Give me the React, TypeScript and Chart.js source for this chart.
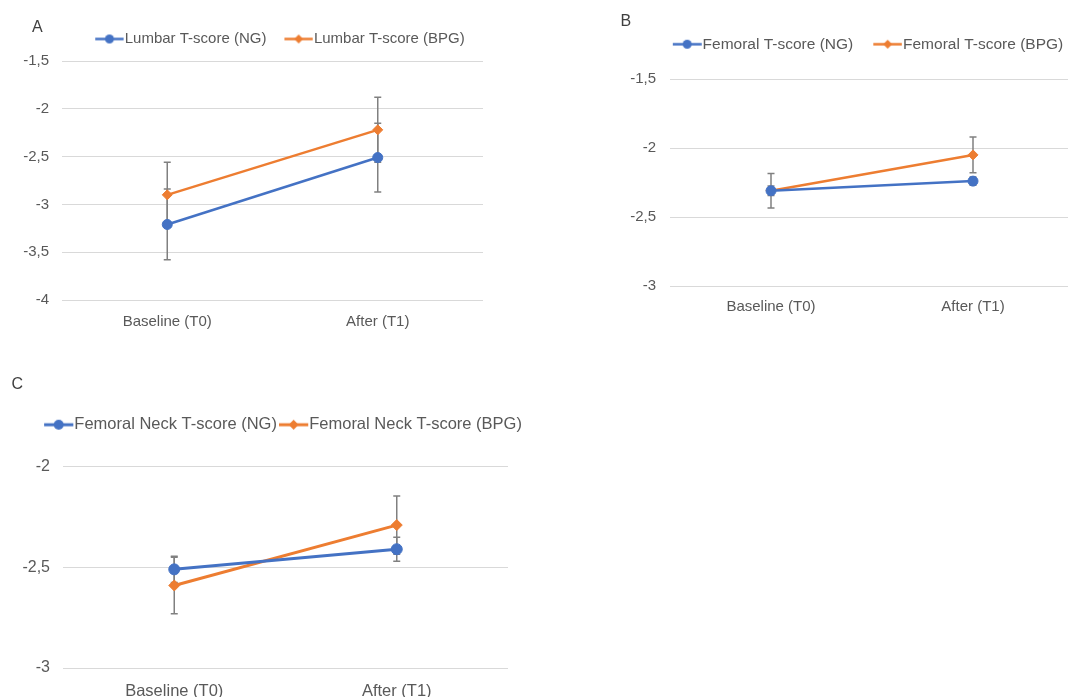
import React, { useEffect, useRef } from 'react';
import { Chart, registerables } from 'chart.js';

Chart.register(...registerables);

// ---------- data ----------
const timepoints = ['Baseline (T0)', 'After (T1)'];

const lumbarNG = [-3.21, -2.51];
const lumbarNGErr = [0.37, 0.36];
const lumbarBPG = [-2.9, -2.22];
const lumbarBPGErr = [0.34, 0.34];
const lumbarAxis = [-4, -1.5, 0.5];

const femoralNG = [-2.31, -2.24];
const femoralNGErr = [0.035, 0.03];
const femoralBPG = [-2.31, -2.05];
const femoralBPGErr = [0.125, 0.13];
const femoralAxis = [-3, -1.5, 0.5];

const neckNG = [-2.51, -2.41];
const neckNGErr = [0.065, 0.06];
const neckBPG = [-2.59, -2.29];
const neckBPGErr = [0.14, 0.145];
const neckAxis = [-3, -2, 0.5];

const panelLetters = ['A', 'B', 'C'];
const lumbarLabels = ['Lumbar T-score (NG)', 'Lumbar T-score (BPG)'];
const femoralLabels = ['Femoral T-score (NG)', 'Femoral T-score (BPG)'];
const neckLabels = ['Femoral Neck T-score (NG)', 'Femoral Neck T-score (BPG)'];

// ---------- styles ----------
const BLUE = '#4472C4';
const ORANGE = '#ED7D31';
const TEXT = '#595959';
const GRID = '#d9d9d9';
const ERR = '#808080';
const FONT = "'Liberation Sans', Arial, Helvetica, sans-serif";

function makeIcon(color: string, style: string, radius: number, lineLen: number, boxW: number, lw: number) {
  const hw = Math.ceil(Math.max(lineLen - boxW / 2, boxW / 2));
  const h = Math.ceil(radius * 2 + 4);
  const c = document.createElement('canvas');
  c.width = hw * 2;
  c.height = h;
  const g = c.getContext('2d')!;
  const x0 = hw - boxW / 2;
  const cy = h / 2;
  g.strokeStyle = color;
  g.lineWidth = lw;
  g.beginPath();
  g.moveTo(x0, cy);
  g.lineTo(x0 + lineLen, cy);
  g.stroke();
  g.fillStyle = color;
  const mx = x0 + lineLen / 2;
  g.beginPath();
  if (style === 'circle') {
    g.arc(mx, cy, radius, 0, Math.PI * 2);
  } else {
    g.moveTo(mx, cy - radius);
    g.lineTo(mx + radius, cy);
    g.lineTo(mx, cy + radius);
    g.lineTo(mx - radius, cy);
    g.closePath();
  }
  g.fill();
  return c;
}

const errorBarPlugin = {
  id: 'errorBars',
  beforeDatasetsDraw(chart: any) {
    const ctx = chart.ctx;
    const y = chart.scales.y;
    ctx.save();
    ctx.strokeStyle = ERR;
    ctx.lineWidth = 1.5;
    chart.data.datasets.forEach((ds: any, i: number) => {
      const meta = chart.getDatasetMeta(i);
      meta.data.forEach((pt: any, j: number) => {
        const v = ds.data[j];
        const e = ds.errors[j];
        const x = pt.x;
        const yt = y.getPixelForValue(v + e);
        const yb = y.getPixelForValue(v - e);
        const cap = 3.5;
        ctx.beginPath();
        ctx.moveTo(x, yt);
        ctx.lineTo(x, yb);
        ctx.moveTo(x - cap, yt);
        ctx.lineTo(x + cap, yt);
        ctx.moveTo(x - cap, yb);
        ctx.lineTo(x + cap, yb);
        ctx.stroke();
      });
    });
    ctx.restore();
  },
};

function centerLegend(cx: number) {
  return {
    id: 'centerLegend',
    afterLayout(chart: any) {
      const lg = chart.legend;
      if (!lg) return;
      const dx = cx - (lg.left + lg.right) / 2;
      lg.left += dx;
      lg.right += dx;
    },
  };
}

type PanelCfg = {
  left: number; top: number; width: number; height: number;
  padTop: number; padRight: number; axisW: number; xAxisH: number; yPad: number; xPad: number;
  legendFont: number; tickFont: number; xFont: number; legendPad: number; boxW: number;
  spacer: number; legendCx: number; r: number; lw: number;
  labels: string[]; ng: number[]; ngErr: number[]; bpg: number[]; bpgErr: number[]; axis: number[];
};

function buildConfig(cfg: PanelCfg): any {
  const lineLen = cfg.boxW + cfg.legendFont / 2 - 1;
  const icons = [
    makeIcon(BLUE, 'circle', cfg.r - 0.5, lineLen, cfg.boxW, cfg.lw),
    makeIcon(ORANGE, 'diamond', cfg.r - 0.5, lineLen, cfg.boxW, cfg.lw),
  ];
  return {
    type: 'line',
    data: {
      labels: timepoints,
      datasets: [
        {
          label: cfg.labels[0], data: cfg.ng, errors: cfg.ngErr,
          borderColor: BLUE, backgroundColor: BLUE, pointBackgroundColor: BLUE, pointBorderColor: BLUE,
          pointStyle: 'circle', pointRadius: cfg.r, pointBorderWidth: 1, borderWidth: cfg.lw, fill: false, tension: 0,
        },
        {
          label: cfg.labels[1], data: cfg.bpg, errors: cfg.bpgErr,
          borderColor: ORANGE, backgroundColor: ORANGE, pointBackgroundColor: ORANGE, pointBorderColor: ORANGE,
          pointStyle: 'rectRot', pointRadius: cfg.r, pointBorderWidth: 1, borderWidth: cfg.lw, fill: false, tension: 0,
        },
      ],
    },
    options: {
      responsive: false,
      animation: false,
      layout: { padding: { top: cfg.padTop, right: cfg.padRight, left: 0, bottom: 0 } },
      plugins: {
        legend: {
          position: 'top',
          fullSize: true,
          labels: {
            usePointStyle: true,
            pointStyleWidth: cfg.boxW,
            padding: cfg.legendPad,
            color: TEXT,
            font: { family: FONT, size: cfg.legendFont },
            generateLabels: (chart: any) =>
              chart.data.datasets.map((ds: any, i: number) => ({
                text: ds.label,
                pointStyle: icons[i],
                fillStyle: ds.borderColor,
                strokeStyle: ds.borderColor,
                lineWidth: 0,
                hidden: false,
                datasetIndex: i,
                fontColor: TEXT,
              })),
          },
        },
        title: {
          display: true, text: '', fullSize: true, weight: 500,
          font: { size: 1, lineHeight: 0 }, padding: { top: cfg.spacer, bottom: 0 },
        },
        tooltip: { enabled: false },
      },
      scales: {
        x: {
          offset: true,
          grid: { display: false, offset: true, drawTicks: false },
          border: { display: false },
          ticks: { color: TEXT, font: { family: FONT, size: cfg.xFont }, padding: cfg.xPad, maxRotation: 0, autoSkip: false },
          afterFit: (a: any) => { a.height = cfg.xAxisH; },
        },
        y: {
          min: cfg.axis[0],
          max: cfg.axis[1],
          ticks: {
            stepSize: cfg.axis[2],
            color: TEXT,
            font: { family: FONT, size: cfg.tickFont },
            padding: cfg.yPad,
            callback: (v: any) => (Math.round(Number(v) * 10) / 10).toString().replace('.', ','),
          },
          grid: { color: GRID, drawTicks: false, lineWidth: 1 },
          border: { display: false },
          afterFit: (a: any) => { a.width = cfg.axisW; },
        },
      },
    },
    plugins: [errorBarPlugin, centerLegend(cfg.legendCx)],
  };
}

const panelA: PanelCfg = {
  left: 0, top: 0, width: 490, height: 330,
  padTop: 13.5, padRight: 7, axisW: 62, xAxisH: 30, yPad: 13, xPad: 13,
  legendFont: 15, tickFont: 15, xFont: 15, legendPad: 18, boxW: 22, spacer: 4.5, legendCx: 280, r: 5, lw: 2.5,
  labels: lumbarLabels, ng: lumbarNG, ngErr: lumbarNGErr, bpg: lumbarBPG, bpgErr: lumbarBPGErr, axis: lumbarAxis,
};
const panelB: PanelCfg = {
  left: 600, top: 0, width: 480, height: 316,
  padTop: 16.5, padRight: 6, axisW: 70, xAxisH: 30, yPad: 14, xPad: 12.3,
  legendFont: 15.5, tickFont: 15, xFont: 15, legendPad: 20, boxW: 22, spacer: 17, legendCx: 268, r: 5, lw: 2.5,
  labels: femoralLabels, ng: femoralNG, ngErr: femoralNGErr, bpg: femoralBPG, bpgErr: femoralBPGErr, axis: femoralAxis,
};
const panelC: PanelCfg = {
  left: 0, top: 360, width: 540, height: 340,
  padTop: 54.5, padRight: 32, axisW: 63, xAxisH: 32, yPad: 13, xPad: 13.3,
  legendFont: 16.5, tickFont: 16, xFont: 16.5, legendPad: 2, boxW: 22, spacer: 23.7, legendCx: 283, r: 5.5, lw: 3,
  labels: neckLabels, ng: neckNG, ngErr: neckNGErr, bpg: neckBPG, bpgErr: neckBPGErr, axis: neckAxis,
};

function Panel({ cfg }: { cfg: PanelCfg }) {
  const ref = useRef<HTMLCanvasElement>(null);
  useEffect(() => {
    const chart = new Chart(ref.current!, buildConfig(cfg));
    return () => chart.destroy();
  }, []);
  return (
    <canvas
      ref={ref}
      width={cfg.width}
      height={cfg.height}
      style={{ position: 'absolute', left: cfg.left, top: cfg.top, width: cfg.width, height: cfg.height }}
    />
  );
}

const letterStyle: React.CSSProperties = {
  position: 'absolute', fontFamily: FONT, fontSize: 16, lineHeight: '16px', color: '#404040',
};

export default function App() {
  return (
    <div style={{ position: 'absolute', left: 0, top: 0, width: 1068, height: 697, overflow: 'hidden', background: '#fff' }}>
      <Panel cfg={panelA} />
      <Panel cfg={panelB} />
      <Panel cfg={panelC} />
      <div style={{ ...letterStyle, left: 32, top: 18.5 }}>{panelLetters[0]}</div>
      <div style={{ ...letterStyle, left: 620.5, top: 13 }}>{panelLetters[1]}</div>
      <div style={{ ...letterStyle, left: 11.5, top: 375.5 }}>{panelLetters[2]}</div>
    </div>
  );
}
